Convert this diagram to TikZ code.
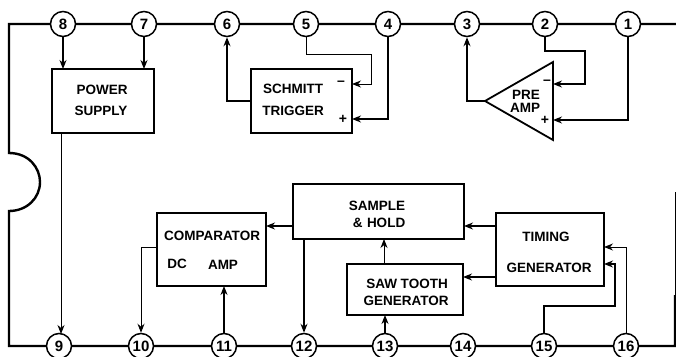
\documentclass[tikz,border=0pt]{standalone}
\usepackage{fontspec}
\setmainfont{Liberation Sans}
\usetikzlibrary{arrows.meta}
\tikzset{
  x=1pt,y=-1pt,
  pin/.style={circle,draw,line width=1.5pt,fill=white,minimum size=25pt,inner sep=0pt,font=\fontsize{15}{15}\selectfont\bfseries},
  blockbox/.style={draw,line width=1.8pt,fill=none,line join=miter},
  lbl/.style={font=\fontsize{13.5}{13.5}\selectfont\bfseries,inner sep=0pt},
  sgn/.style={font=\fontsize{14}{14}\selectfont\bfseries,inner sep=0pt},
  wire/.style={line width=1.4pt,-{Stealth[length=9pt,width=7pt]}},
  thinwire/.style={line width=.9pt,-{Stealth[length=9pt,width=7pt]}},
  outline/.style={line width=2.4pt},
}
\begin{document}
\begin{tikzpicture}
\useasboundingbox (0,0) rectangle (676,356);
% package outline
\coordinate (tl) at (9,24); \coordinate (tr) at (676,24);
\coordinate (bl) at (9,346); \coordinate (br) at (675,346);
\coordinate (ntop) at (9,153); \coordinate (nbot) at (9,211);
\coordinate (rmid) at (675,295); \coordinate (rtop) at (675,192);
\draw[outline] (tr) -- (tl) -- (ntop) .. controls (29,153) and (40,168) .. (40,182) .. controls (40,198) and (27,211) .. (nbot) -- (bl) -- (br) -- (rmid);
\draw[line width=.8pt] (rmid) -- (rtop);
% pins
\foreach \n/\x in {8/63,7/144,6/227,5/306,4/388,3/467,2/545,1/628}
  \node[pin] (p\n) at (\x,24) {\n};
\foreach \n/\x in {9/59,10/141,11/224,12/304,13/385,14/463,15/544,16/626}
  \node[pin] (p\n) at (\x,346) {\n};
% blocks
\draw[blockbox] (52,69) rectangle (154,133);
\coordinate (pwrt8) at (63,69); \coordinate (pwrt7) at (144,69); \coordinate (pwrb) at (61,133);
\node[lbl] (pwr1) at (102,90) {POWER};
\node[lbl] (pwr2) at (101,111) {SUPPLY};
\draw[blockbox] (251,69) rectangle (352,133);
\node[lbl] (sch1) at (293,89) {SCHMITT};
\node[lbl] (sch2) at (293,111) {TRIGGER};
\node[sgn] (schm) at (341,83) {--};
\node[sgn] (schp) at (343,119) {+};
\draw[blockbox] (485,101) -- (553,62) -- (553,140) -- cycle;
\node[lbl] (pre1) at (526,95) {PRE};
\node[lbl] (pre2) at (525,108) {AMP};
\node[sgn] (prem) at (547,82) {--};
\node[sgn] (prep) at (545,120) {+};
\draw[blockbox] (293,184) rectangle (464,239);
\node[lbl] (sh1) at (377,206) {SAMPLE};
\node[lbl] (sh2) at (379,223) {\&\,\,HOLD};
\draw[blockbox] (157,213) rectangle (266,286);
\node[lbl] (cmp1) at (212,236) {COMPARATOR};
\node[lbl] (cmp2) at (177,264) {DC};
\node[lbl] (cmp3) at (223,265) {AMP};
\draw[blockbox] (347,264) rectangle (463,315);
\node[lbl] (saw1) at (407,284) {SAW TOOTH};
\node[lbl] (saw2) at (406,301) {GENERATOR};
\draw[blockbox] (496,213) rectangle (604,286);
\node[lbl] (tim1) at (546,237) {TIMING};
\node[lbl] (tim2) at (549,268) {GENERATOR};
% connectors
\draw[wire] (p8) -- (pwrt8);
\draw[wire] (p7) -- (pwrt7);
\draw[thinwire] (pwrb) -- (61,334);
\draw[wire] (251,101) -- (227,101) -- (p6);
\draw[thinwire] (p5) |- (371,54) -- (371,84) -- (352,84);
\draw[wire] (p4) |- (352,119);
\draw[wire] (485,101) -- (467,101) -- (p3);
\draw[wire] (p2) |- (585,51) -- (585,84) -- (553,84);
\draw[wire] (p1) |- (553,120);
\draw[wire] (293,226) -- (266,226);
\draw[thinwire] (157,247) -| (p10);
\draw[wire] (p11) -- (224,286);
\draw[wire] (304,239) -- (p12);
\draw[wire] (p13) -- (385,315);
\draw[thinwire] (384,264) -- (384,239);
\draw[wire] (496,226) -- (464,226);
\draw[wire] (496,277) -- (463,277);
\draw[thinwire] (p16) |- (604,247);
\draw[wire] (p15) |- (615,306) -- (615,264) -- (604,264);
\end{tikzpicture}
\end{document}
